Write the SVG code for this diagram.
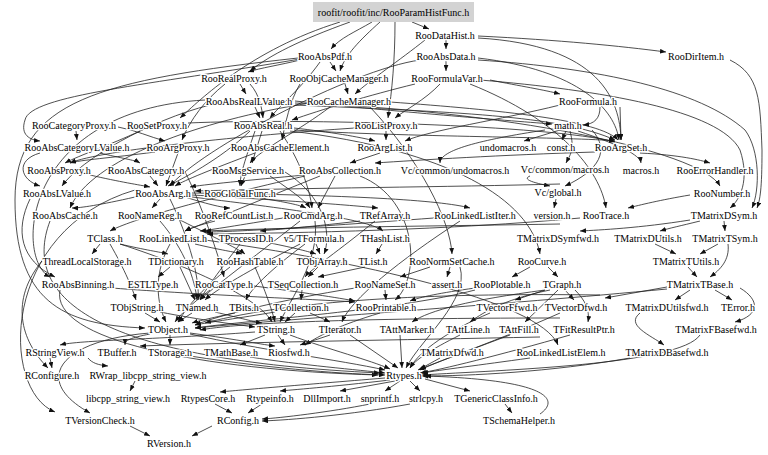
<svg xmlns="http://www.w3.org/2000/svg" width="768" height="455" viewBox="0 0 768 455">
<style>
text{font-family:"Liberation Serif","Times New Roman",serif;font-size:10px;fill:#000;text-anchor:middle;stroke:#fff;stroke-width:2.6px;paint-order:stroke;stroke-linejoin:round}
#edges path{fill:none;stroke:#222;stroke-width:0.8;marker-end:url(#a)}
</style>
<defs>
<marker id="a" viewBox="0 0 10 8" refX="10" refY="4" markerWidth="6" markerHeight="5" markerUnits="userSpaceOnUse" orient="auto"><path d="M0,0 L10,4 L0,8 z" fill="#111"/></marker>
</defs>
<rect width="768" height="455" fill="#fff"/>
<g id="edges">
<path d="M412,22 L429,29"/>
<path d="M372,22 C355,32 340,38 331,49"/>
<path d="M350,22 C300,40 270,55 250,71"/>
<path d="M395,22 C395,60 392,90 388,118"/>
<path d="M340,22 C250,50 200,100 180,118"/>
<path d="M380,22 C360,40 345,55 340,71"/>
<path d="M446,40 L446,49"/>
<path d="M478,36 C560,40 620,46 666,52"/>
<path d="M478,38 C600,45 620,100 621,140"/>
<path d="M425,40 C400,60 370,80 355,94"/>
<path d="M446,61 L446,71"/>
<path d="M478,58 C580,70 615,110 619,140"/>
<path d="M420,60 C350,70 200,150 170,186"/>
<path d="M320,62 C300,90 280,105 270,118"/>
<path d="M300,60 C280,65 260,68 248,72"/>
<path d="M300,59 C150,85 30,95 25,120 C20,135 30,140 40,141"/>
<path d="M298,58 C100,80 15,100 15,200 C15,300 60,325 145,328"/>
<path d="M330,62 L336,71"/>
<path d="M240,84 L246,94"/>
<path d="M225,84 C205,100 190,120 182,140"/>
<path d="M250,84 C260,95 262,110 263,118"/>
<path d="M345,84 L348,94"/>
<path d="M300,84 C290,100 285,125 282,140"/>
<path d="M490,80 C520,86 545,90 560,94"/>
<path d="M440,84 C425,100 405,110 395,118"/>
<path d="M415,84 C370,95 320,110 292,120"/>
<path d="M470,84 C560,120 600,170 606,208"/>
<path d="M255,107 L260,118"/>
<path d="M295,103 C500,110 700,150 720,186"/>
<path d="M210,105 C150,120 80,160 62,186"/>
<path d="M205,100 C20,110 15,260 50,277"/>
<path d="M295,101 C400,112 500,120 552,124"/>
<path d="M295,105 C450,112 560,115 615,140"/>
<path d="M310,103 C200,120 90,160 70,208"/>
<path d="M370,107 C420,160 450,220 452,254"/>
<path d="M330,107 C300,130 260,150 250,163"/>
<path d="M390,102 C500,110 600,120 618,140"/>
<path d="M600,107 C600,118 595,124 583,125"/>
<path d="M620,107 L621,140"/>
<path d="M560,105 C500,120 430,130 405,141"/>
<path d="M76,131 L77,140"/>
<path d="M118,127 C135,130 150,137 165,141"/>
<path d="M140,131 C110,145 80,155 65,163"/>
<path d="M188,123 C300,118 550,125 615,142"/>
<path d="M386,131 L386,140"/>
<path d="M355,128 C250,135 100,150 70,163"/>
<path d="M250,131 C220,160 180,180 168,186"/>
<path d="M280,131 C300,160 310,190 312,208"/>
<path d="M294,130 C400,137 580,137 615,141"/>
<path d="M294,128 C330,132 360,137 375,141"/>
<path d="M255,131 C245,160 240,175 240,186"/>
<path d="M290,131 C450,150 530,200 540,254"/>
<path d="M262,131 L252,163"/>
<path d="M560,130 L524,141"/>
<path d="M566,131 L562,140"/>
<path d="M545,130 C480,140 440,150 440,163"/>
<path d="M570,131 C575,150 570,155 566,163"/>
<path d="M578,131 C620,145 640,155 641,163"/>
<path d="M592,130 C610,150 600,170 565,186"/>
<path d="M100,153 C120,158 135,160 140,163"/>
<path d="M40,153 C15,160 20,180 40,186"/>
<path d="M155,152 C110,158 80,160 70,163"/>
<path d="M178,153 L166,186"/>
<path d="M255,153 C210,170 185,180 175,186"/>
<path d="M380,153 L350,163"/>
<path d="M595,152 C500,155 420,160 375,163"/>
<path d="M640,153 C680,155 700,160 710,163"/>
<path d="M90,175 C120,182 140,185 150,187"/>
<path d="M150,176 L158,186"/>
<path d="M185,172 C200,200 220,260 224,277"/>
<path d="M245,176 L241,186"/>
<path d="M270,176 C290,190 305,200 310,208"/>
<path d="M285,172 C330,200 330,240 324,254"/>
<path d="M305,175 C250,180 200,185 190,187"/>
<path d="M320,176 C260,200 200,225 185,231"/>
<path d="M360,176 C420,200 420,280 395,300"/>
<path d="M305,176 C200,200 130,220 110,231"/>
<path d="M335,176 L318,208"/>
<path d="M530,176 C520,180 540,184 550,186"/>
<path d="M556,199 L554,208"/>
<path d="M690,195 C660,200 640,205 628,208"/>
<path d="M730,60 C760,75 760,100 762,150 C762,190 760,200 757,208"/>
<path d="M478,60 C600,68 700,90 745,130 C760,150 760,190 752,208"/>
<path d="M480,80 C600,90 720,110 740,150 C750,180 740,200 730,208"/>
<path d="M724,221 L725,231"/>
<path d="M700,221 C680,226 670,228 660,231"/>
<path d="M690,220 C640,228 600,230 580,231"/>
<path d="M170,199 C190,240 200,280 198,300"/>
<path d="M160,199 L152,208"/>
<path d="M185,197 C210,205 225,208 230,208"/>
<path d="M192,195 C280,200 350,205 378,208"/>
<path d="M192,197 C300,210 370,220 383,231"/>
<path d="M192,193 C350,195 440,200 470,208"/>
<path d="M135,197 C100,205 80,208 72,208"/>
<path d="M135,190 C0,230 0,390 55,412"/>
<path d="M260,198 C285,202 300,205 306,208"/>
<path d="M30,199 C15,230 20,260 55,277"/>
<path d="M50,221 C20,300 100,360 380,373"/>
<path d="M160,221 C185,250 195,280 197,300"/>
<path d="M180,220 C220,240 240,250 245,254"/>
<path d="M215,221 C200,225 190,228 185,231"/>
<path d="M300,221 C250,260 210,290 200,300"/>
<path d="M315,221 C320,260 290,300 280,322"/>
<path d="M283,218 C240,225 210,230 200,231"/>
<path d="M375,221 C340,250 310,270 305,277"/>
<path d="M360,221 C300,228 270,230 260,231"/>
<path d="M460,221 C400,260 350,300 342,322"/>
<path d="M434,218 C300,228 230,232 205,232"/>
<path d="M580,218 C450,230 300,233 207,234"/>
<path d="M560,184 C450,187 300,188 195,191"/>
<path d="M560,224 C450,226 300,227 205,231"/>
<path d="M120,244 C145,250 160,252 168,254"/>
<path d="M100,244 L92,254"/>
<path d="M120,244 C200,270 260,300 272,322"/>
<path d="M110,244 C125,270 133,290 136,300"/>
<path d="M170,244 C150,280 160,310 166,322"/>
<path d="M205,240 C350,260 540,300 558,345"/>
<path d="M195,244 C220,250 235,252 242,254"/>
<path d="M240,244 C220,270 205,290 200,300"/>
<path d="M270,243 C295,248 310,252 316,254"/>
<path d="M300,244 C250,270 215,290 205,300"/>
<path d="M305,244 C270,270 250,290 246,300"/>
<path d="M316,244 L320,254"/>
<path d="M382,244 L376,254"/>
<path d="M655,244 L676,254"/>
<path d="M718,244 L700,254"/>
<path d="M728,244 C730,260 720,270 710,277"/>
<path d="M42,261 C10,300 20,340 48,368"/>
<path d="M180,267 L195,300"/>
<path d="M170,267 L158,277"/>
<path d="M230,267 C200,290 185,310 178,322"/>
<path d="M255,267 C265,290 272,310 275,322"/>
<path d="M318,267 L308,277"/>
<path d="M365,267 L318,277"/>
<path d="M430,267 L400,277"/>
<path d="M450,267 L447,277"/>
<path d="M460,267 C470,300 420,340 406,368"/>
<path d="M548,267 L558,277"/>
<path d="M530,267 L512,277"/>
<path d="M688,267 L697,277"/>
<path d="M112,288 C200,295 330,300 355,302"/>
<path d="M60,290 C50,340 200,370 378,375"/>
<path d="M210,290 C190,305 180,315 175,322"/>
<path d="M254,286 C300,292 340,298 355,301"/>
<path d="M302,290 L301,300"/>
<path d="M355,288 C280,300 220,315 195,325"/>
<path d="M385,290 L386,300"/>
<path d="M475,288 C440,293 420,297 410,301"/>
<path d="M475,290 C400,310 250,320 195,328"/>
<path d="M600,295 C450,293 300,298 205,323"/>
<path d="M550,290 C500,300 480,315 470,322"/>
<path d="M558,290 L525,322"/>
<path d="M545,290 C470,300 430,310 412,322"/>
<path d="M545,290 L515,300"/>
<path d="M565,290 L574,300"/>
<path d="M575,290 C585,300 590,310 588,322"/>
<path d="M690,290 L675,300"/>
<path d="M715,290 L732,300"/>
<path d="M740,288 C760,300 760,315 735,322"/>
<path d="M640,313 C625,325 650,335 664,345"/>
<path d="M667,287 L605,298"/>
<path d="M667,289 C500,305 300,318 195,328"/>
<path d="M560,318 C400,318 250,321 200,330"/>
<path d="M145,313 L160,322"/>
<path d="M160,312 C200,320 240,325 255,327"/>
<path d="M192,313 L178,322"/>
<path d="M215,312 C240,318 255,322 262,323"/>
<path d="M235,313 C210,318 195,322 192,323"/>
<path d="M275,312 C240,318 210,322 195,325"/>
<path d="M310,313 L330,322"/>
<path d="M295,313 L285,322"/>
<path d="M380,313 C340,325 320,335 305,345"/>
<path d="M490,313 C450,330 420,350 410,368"/>
<path d="M560,313 C500,340 440,360 420,370"/>
<path d="M170,335 L170,345"/>
<path d="M150,333 C60,340 30,380 90,413"/>
<path d="M150,334 C130,338 125,340 125,345"/>
<path d="M540,337 C400,340 250,342 140,346"/>
<path d="M190,333 C240,340 265,345 275,346"/>
<path d="M190,334 C260,350 340,360 385,370"/>
<path d="M265,335 L240,345"/>
<path d="M278,335 L285,345"/>
<path d="M255,332 C150,340 80,340 60,345"/>
<path d="M290,335 C330,350 370,360 390,369"/>
<path d="M330,335 L300,345"/>
<path d="M350,335 L398,368"/>
<path d="M400,335 L402,368"/>
<path d="M460,335 C430,350 415,360 410,368"/>
<path d="M510,335 C470,350 430,365 418,370"/>
<path d="M570,335 C500,355 440,370 420,373"/>
<path d="M700,335 C680,365 500,370 422,375"/>
<path d="M440,358 L420,369"/>
<path d="M530,358 C480,365 440,370 422,373"/>
<path d="M630,358 C550,372 470,376 422,376"/>
<path d="M250,357 C300,365 360,370 385,373"/>
<path d="M190,356 C280,370 350,374 385,375"/>
<path d="M50,358 L52,368"/>
<path d="M88,358 C92,363 98,365 108,366"/>
<path d="M135,381 L130,391"/>
<path d="M385,378 C300,385 240,390 220,392"/>
<path d="M390,380 C330,387 290,390 280,391"/>
<path d="M395,381 L340,391"/>
<path d="M400,381 L385,391"/>
<path d="M410,381 L420,391"/>
<path d="M425,379 L470,391"/>
<path d="M215,404 L232,413"/>
<path d="M262,404 L248,413"/>
<path d="M370,404 C330,412 280,418 262,419"/>
<path d="M410,404 C350,415 290,420 262,421"/>
<path d="M505,404 L512,413"/>
<path d="M540,414 C560,400 550,380 425,376"/>
<path d="M212,426 L192,436"/>
<path d="M130,426 L150,436"/>
</g>
<g id="root"><rect x="313" y="2" width="161" height="20" fill="#d3d3d3"/><text x="393.5" y="15.5" style="stroke:none">roofit/roofit/inc/RooParamHistFunc.h</text></g>
<g id="RooDataHist"><text x="445" y="38.5">RooDataHist.h</text></g>
<g id="RooAbsPdf"><text x="325" y="59.5">RooAbsPdf.h</text></g>
<g id="RooAbsData"><text x="446" y="59.5">RooAbsData.h</text></g>
<g id="RooDirItem"><text x="696" y="59.5">RooDirItem.h</text></g>
<g id="RooRealProxy"><text x="234" y="81.5">RooRealProxy.h</text></g>
<g id="RooObjCacheManager"><text x="339" y="81.5">RooObjCacheManager.h</text></g>
<g id="RooFormulaVar"><text x="447" y="81.5">RooFormulaVar.h</text></g>
<g id="RooAbsRealLValue"><text x="249" y="104.5">RooAbsRealLValue.h</text></g>
<g id="RooCacheManager"><text x="349" y="104.5">RooCacheManager.h</text></g>
<g id="RooFormula"><text x="588" y="104.5">RooFormula.h</text></g>
<g id="RooCategoryProxy"><text x="74" y="128.5">RooCategoryProxy.h</text></g>
<g id="RooSetProxy"><text x="157" y="128.5">RooSetProxy.h</text></g>
<g id="RooAbsReal"><text x="263" y="128.5">RooAbsReal.h</text></g>
<g id="RooListProxy"><text x="386" y="128.5">RooListProxy.h</text></g>
<g id="math"><text x="568" y="128.5">math.h</text></g>
<g id="RooAbsCategoryLValue"><text x="77" y="150.5">RooAbsCategoryLValue.h</text></g>
<g id="RooArgProxy"><text x="178" y="150.5">RooArgProxy.h</text></g>
<g id="RooAbsCacheElement"><text x="280" y="150.5">RooAbsCacheElement.h</text></g>
<g id="RooArgList"><text x="385" y="150.5">RooArgList.h</text></g>
<g id="undomacros"><text x="508" y="150.5">undomacros.h</text></g>
<g id="const"><text x="561" y="150.5">const.h</text></g>
<g id="RooArgSet"><text x="621" y="150.5">RooArgSet.h</text></g>
<g id="RooAbsProxy"><text x="59" y="173.5">RooAbsProxy.h</text></g>
<g id="RooAbsCategory"><text x="146" y="173.5">RooAbsCategory.h</text></g>
<g id="RooMsgService"><text x="248" y="173.5">RooMsgService.h</text></g>
<g id="RooAbsCollection"><text x="340" y="173.5">RooAbsCollection.h</text></g>
<g id="Vc_common_undomacros"><text x="455" y="173.5">Vc/common/undomacros.h</text></g>
<g id="Vc_common_macros"><text x="565" y="172.5">Vc/common/macros.h</text></g>
<g id="macros"><text x="641" y="173.5">macros.h</text></g>
<g id="RooErrorHandler"><text x="715" y="173.5">RooErrorHandler.h</text></g>
<g id="RooAbsLValue"><text x="57" y="196.5">RooAbsLValue.h</text></g>
<g id="RooAbsArg"><text x="163" y="196.5">RooAbsArg.h</text></g>
<g id="RooGlobalFunc"><text x="240" y="196.5">RooGlobalFunc.h</text></g>
<g id="Vc_global"><text x="558" y="195.5">Vc/global.h</text></g>
<g id="RooNumber"><text x="722" y="196.5">RooNumber.h</text></g>
<g id="RooAbsCache"><text x="65" y="218.5">RooAbsCache.h</text></g>
<g id="RooNameReg"><text x="150" y="218.5">RooNameReg.h</text></g>
<g id="RooRefCountList"><text x="234" y="218.5">RooRefCountList.h</text></g>
<g id="RooCmdArg"><text x="313" y="218.5">RooCmdArg.h</text></g>
<g id="TRefArray"><text x="385" y="218.5">TRefArray.h</text></g>
<g id="RooLinkedListIter"><text x="475" y="218.5">RooLinkedListIter.h</text></g>
<g id="version"><text x="552" y="218.5">version.h</text></g>
<g id="RooTrace"><text x="606" y="218.5">RooTrace.h</text></g>
<g id="TMatrixDSym"><text x="724" y="218.5">TMatrixDSym.h</text></g>
<g id="TClass"><text x="105" y="241.5">TClass.h</text></g>
<g id="RooLinkedList"><text x="173" y="241.5">RooLinkedList.h</text></g>
<g id="TProcessID"><text x="246" y="241.5">TProcessID.h</text></g>
<g id="v5_TFormula"><text x="314" y="241.5">v5/TFormula.h</text></g>
<g id="THashList"><text x="385" y="241.5">THashList.h</text></g>
<g id="TMatrixDSymfwd"><text x="558" y="241.5">TMatrixDSymfwd.h</text></g>
<g id="TMatrixDUtils"><text x="648" y="241.5">TMatrixDUtils.h</text></g>
<g id="TMatrixTSym"><text x="725" y="241.5">TMatrixTSym.h</text></g>
<g id="ThreadLocalStorage"><text x="87" y="264.5">ThreadLocalStorage.h</text></g>
<g id="TDictionary"><text x="176" y="264.5">TDictionary.h</text></g>
<g id="RooHashTable"><text x="250" y="264.5">RooHashTable.h</text></g>
<g id="TObjArray"><text x="322" y="264.5">TObjArray.h</text></g>
<g id="TList"><text x="373" y="264.5">TList.h</text></g>
<g id="RooNormSetCache"><text x="452" y="264.5">RooNormSetCache.h</text></g>
<g id="RooCurve"><text x="542" y="264.5">RooCurve.h</text></g>
<g id="TMatrixTUtils"><text x="686" y="264.5">TMatrixTUtils.h</text></g>
<g id="RooAbsBinning"><text x="78" y="287.5">RooAbsBinning.h</text></g>
<g id="ESTLType"><text x="153" y="287.5">ESTLType.h</text></g>
<g id="RooCatType"><text x="224" y="287.5">RooCatType.h</text></g>
<g id="TSeqCollection"><text x="303" y="287.5">TSeqCollection.h</text></g>
<g id="RooNameSet"><text x="385" y="287.5">RooNameSet.h</text></g>
<g id="assert"><text x="447" y="287.5">assert.h</text></g>
<g id="RooPlotable"><text x="502" y="287.5">RooPlotable.h</text></g>
<g id="TGraph"><text x="562" y="287.5">TGraph.h</text></g>
<g id="TMatrixTBase"><text x="700" y="287.5">TMatrixTBase.h</text></g>
<g id="TObjString"><text x="137" y="310.5">TObjString.h</text></g>
<g id="TNamed"><text x="197" y="310.5">TNamed.h</text></g>
<g id="TBits"><text x="244" y="310.5">TBits.h</text></g>
<g id="TCollection"><text x="301" y="310.5">TCollection.h</text></g>
<g id="RooPrintable"><text x="386" y="310.5">RooPrintable.h</text></g>
<g id="TVectorFfwd"><text x="507" y="310.5">TVectorFfwd.h</text></g>
<g id="TVectorDfwd"><text x="576" y="310.5">TVectorDfwd.h</text></g>
<g id="TMatrixDUtilsfwd"><text x="667" y="310.5">TMatrixDUtilsfwd.h</text></g>
<g id="TError"><text x="738" y="310.5">TError.h</text></g>
<g id="TObject"><text x="168" y="332.5">TObject.h</text></g>
<g id="TString"><text x="276" y="332.5">TString.h</text></g>
<g id="TIterator"><text x="340" y="332.5">TIterator.h</text></g>
<g id="TAttMarker"><text x="407" y="332.5">TAttMarker.h</text></g>
<g id="TAttLine"><text x="468" y="332.5">TAttLine.h</text></g>
<g id="TAttFill"><text x="519" y="332.5">TAttFill.h</text></g>
<g id="TFitResultPtr"><text x="584" y="332.5">TFitResultPtr.h</text></g>
<g id="TMatrixFBasefwd"><text x="716" y="332.5">TMatrixFBasefwd.h</text></g>
<g id="RStringView"><text x="55" y="355.5">RStringView.h</text></g>
<g id="TBuffer"><text x="117" y="355.5">TBuffer.h</text></g>
<g id="TStorage"><text x="170" y="355.5">TStorage.h</text></g>
<g id="TMathBase"><text x="231" y="355.5">TMathBase.h</text></g>
<g id="Riosfwd"><text x="289" y="355.5">Riosfwd.h</text></g>
<g id="TMatrixDfwd"><text x="452" y="355.5">TMatrixDfwd.h</text></g>
<g id="RooLinkedListElem"><text x="561" y="355.5">RooLinkedListElem.h</text></g>
<g id="TMatrixDBasefwd"><text x="667" y="355.5">TMatrixDBasefwd.h</text></g>
<g id="RConfigure"><text x="52" y="378.5">RConfigure.h</text></g>
<g id="RWrap_libcpp_string_view"><text x="148" y="378.5">RWrap_libcpp_string_view.h</text></g>
<g id="Rtypes"><text x="404" y="378.5">Rtypes.h</text></g>
<g id="libcpp_string_view"><text x="128" y="401.5">libcpp_string_view.h</text></g>
<g id="RtypesCore"><text x="208" y="401.5">RtypesCore.h</text></g>
<g id="Rtypeinfo"><text x="270" y="401.5">Rtypeinfo.h</text></g>
<g id="DllImport"><text x="327" y="401.5">DllImport.h</text></g>
<g id="snprintf"><text x="380" y="401.5">snprintf.h</text></g>
<g id="strlcpy"><text x="426" y="401.5">strlcpy.h</text></g>
<g id="TGenericClassInfo"><text x="496" y="401.5">TGenericClassInfo.h</text></g>
<g id="TVersionCheck"><text x="100" y="423.5">TVersionCheck.h</text></g>
<g id="RConfig"><text x="238" y="423.5">RConfig.h</text></g>
<g id="TSchemaHelper"><text x="519" y="423.5">TSchemaHelper.h</text></g>
<g id="RVersion"><text x="169" y="446.5">RVersion.h</text></g>
</svg>
